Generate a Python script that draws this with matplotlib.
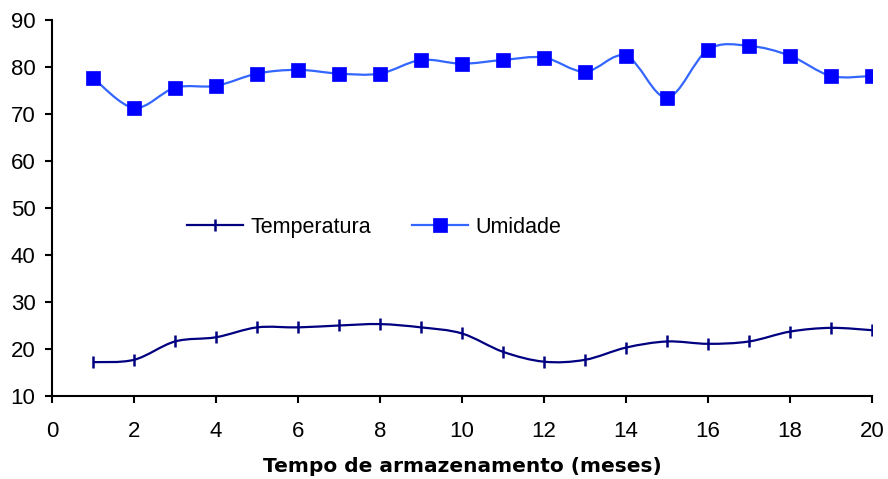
import numpy as np
import matplotlib.pyplot as plt
from matplotlib.path import Path
from matplotlib.patches import PathPatch
from matplotlib.lines import Line2D

plt.rcParams['font.family'] = ['Liberation Sans', 'DejaVu Sans']

meses = [1, 2, 3, 4, 5, 6, 7, 8, 9, 10, 11, 12, 13, 14, 15, 16, 17, 18, 19, 20]
temperatura = [17.2, 17.7, 21.6, 22.5, 24.6, 24.6, 25.0, 25.3, 24.6, 23.3,
               19.4, 17.3, 17.7, 20.3, 21.6, 21.1, 21.6, 23.7, 24.5, 24.0]
umidade = [77.7, 71.3, 75.6, 76.0, 78.6, 79.4, 78.6, 78.6, 81.5, 80.7,
           81.5, 82.0, 79.0, 82.4, 73.5, 83.7, 84.5, 82.4, 78.1, 78.1]

cor_temp = '#000080'
cor_umid_linha = '#3366FF'
cor_umid_marca = '#0000FF'


def smooth_path(x, y):
    # bezier segments through the points, like Excel's smoothed line
    p = np.column_stack([x, y]).astype(float)
    ext = np.vstack([p[0], p, p[-1]])
    verts = [p[0]]
    codes = [Path.MOVETO]
    for i in range(len(p) - 1):
        p0, p1, p2, p3 = ext[i], ext[i + 1], ext[i + 2], ext[i + 3]
        verts += [p1 + (p2 - p0) / 6, p2 - (p3 - p1) / 6, p2]
        codes += [Path.CURVE4] * 3
    return Path(verts, codes)


fig = plt.figure(figsize=(8.88, 4.79), dpi=100)
ax = fig.add_axes([0.0586, 0.1733, 0.9234, 0.7849])

ax.add_patch(PathPatch(smooth_path(meses, temperatura), fill=False,
                       edgecolor=cor_temp, lw=1.6, zorder=2))
ax.add_patch(PathPatch(smooth_path(meses, umidade), fill=False,
                       edgecolor=cor_umid_linha, lw=1.6, zorder=2))
ax.plot(meses, temperatura, linestyle='none', marker='|', ms=9, mew=1.8,
        color=cor_temp, zorder=3)
ax.plot(meses, umidade, linestyle='none', marker='s', ms=10, mew=0.5,
        color=cor_umid_marca, zorder=3)

ax.set_xlim(0, 20)
ax.set_ylim(10, 90)
ax.set_xticks(range(0, 21, 2))
ax.set_yticks(range(10, 91, 10))
ax.spines['top'].set_visible(False)
ax.spines['right'].set_visible(False)
for s in ['left', 'bottom']:
    ax.spines[s].set_linewidth(1.5)
ax.tick_params(direction='out', length=5, width=1.5, labelsize=16)
ax.tick_params(axis='y', pad=7)
ax.tick_params(axis='x', pad=13)
ax.set_xlabel('Tempo de armazenamento (meses)', fontsize=14.5,
              fontweight='bold', family='DejaVu Sans', labelpad=11)

handles = [
    Line2D([], [], color=cor_temp, lw=1.6, marker='|', ms=9, mew=1.8),
    Line2D([], [], color=cor_umid_linha, lw=1.6, marker='s', ms=10,
           mew=0.5, markerfacecolor=cor_umid_marca,
           markeredgecolor=cor_umid_marca),
]
ax.legend(handles, ['Temperatura', 'Umidade'], loc='center',
          bbox_to_anchor=(0.393, 0.449), ncol=2, frameon=False,
          fontsize=15.5, handlelength=2.6, handletextpad=0.35,
          columnspacing=1.9)

fig.savefig('out.png', dpi=100)
